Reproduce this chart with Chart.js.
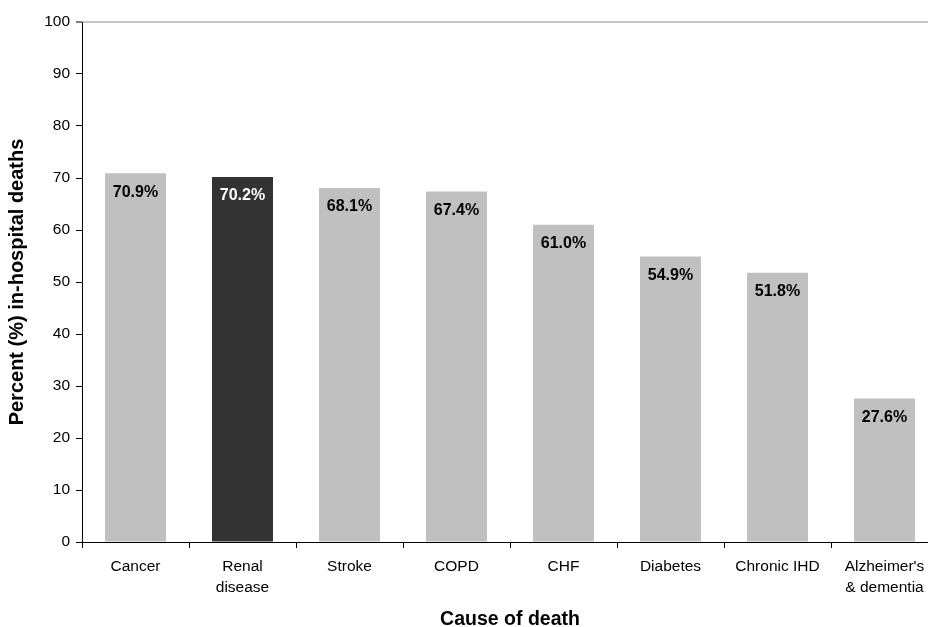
<!DOCTYPE html>
<html>
<head>
<meta charset="utf-8">
<script src="https://cdn.jsdelivr.net/npm/chart.js@4/dist/chart.umd.min.js"></script>
<style>
  html, body { margin: 0; padding: 0; background: #fff; overflow: hidden; }
  #wrap { width: 928px; height: 627px; overflow: hidden; position: relative; }
  canvas { display: block; }
</style>
</head>
<body>
<div id="wrap"><canvas id="c" width="950" height="627"></canvas></div>
<script>
const categories = ["Cancer", ["Renal", "disease"], "Stroke", "COPD", "CHF", "Diabetes", "Chronic IHD", ["Alzheimer's", "& dementia"]];
const values = [70.9, 70.2, 68.1, 67.4, 61.0, 54.9, 51.8, 27.6];
const valueLabels = ["70.9%", "70.2%", "68.1%", "67.4%", "61.0%", "54.9%", "51.8%", "27.6%"];
const highlightIndex = 1;
const yTitle = "Percent (%) in-hospital deaths";
const xTitle = "Cause of death";

const barColors = values.map((v, i) => i === highlightIndex ? '#333333' : '#c0c0c0');

const labelPlugin = {
  id: 'barLabels',
  afterDatasetsDraw(chart) {
    const ctx = chart.ctx;
    const meta = chart.getDatasetMeta(0);
    ctx.save();
    ctx.font = 'bold 16px "Liberation Sans", Arial, sans-serif';
    ctx.textAlign = 'center';
    ctx.textBaseline = 'middle';
    meta.data.forEach((bar, i) => {
      ctx.fillStyle = i === highlightIndex ? '#ffffff' : '#000000';
      ctx.fillText(valueLabels[i], bar.x, bar.y + 19);
    });
    ctx.restore();
  }
};

new Chart(document.getElementById('c'), {
  type: 'bar',
  data: {
    labels: categories,
    datasets: [{
      data: values,
      backgroundColor: barColors,
      borderWidth: 0,
      barPercentage: 0.57,
      categoryPercentage: 1.0
    }]
  },
  options: {
    responsive: false,
    animation: false,
    devicePixelRatio: 1,
    layout: { padding: { top: 22, right: 12, bottom: 0, left: 0 } },
    plugins: { legend: { display: false }, tooltip: { enabled: false } },
    scales: {
      x: {
        afterFit(scale) { scale.height = 85; },
        border: { color: '#000000', width: 1 },
        grid: {
          offset: true,
          drawOnChartArea: false,
          drawTicks: true,
          tickLength: 6,
          tickColor: '#000000',
          tickWidth: 1
        },
        ticks: {
          color: '#000000',
          padding: 8,
          maxRotation: 0,
          autoSkip: false,
          font: { family: '"Liberation Sans", Arial, sans-serif', size: 15.5, lineHeight: 1.35 }
        },
        title: {
          display: true,
          text: xTitle,
          color: '#000000',
          padding: { top: 0, bottom: 0 },
          font: { family: '"Liberation Sans", Arial, sans-serif', size: 19.5, weight: 'bold', lineHeight: 0.8 }
        }
      },
      y: {
        min: 0,
        max: 100,
        afterFit(scale) { scale.width = 82; },
        border: { color: '#000000', width: 1 },
        grid: {
          drawOnChartArea: true,
          color: (c) => (c.tick && c.tick.value === 100) ? '#c4c4c4' : 'rgba(0,0,0,0)',
          lineWidth: (c) => (c.tick && c.tick.value === 100) ? 2 : 1,
          drawTicks: true,
          tickLength: 6,
          tickColor: '#000000',
          tickWidth: 1
        },
        ticks: {
          stepSize: 10,
          color: '#000000',
          padding: 6,
          font: { family: '"Liberation Sans", Arial, sans-serif', size: 15.5 }
        },
        title: {
          display: true,
          text: yTitle,
          color: '#000000',
          padding: { top: 6, bottom: 0 },
          font: { family: '"Liberation Sans", Arial, sans-serif', size: 20, weight: 'bold', lineHeight: 1.15 }
        }
      }
    }
  },
  plugins: [labelPlugin]
});
</script>
</body>
</html>
